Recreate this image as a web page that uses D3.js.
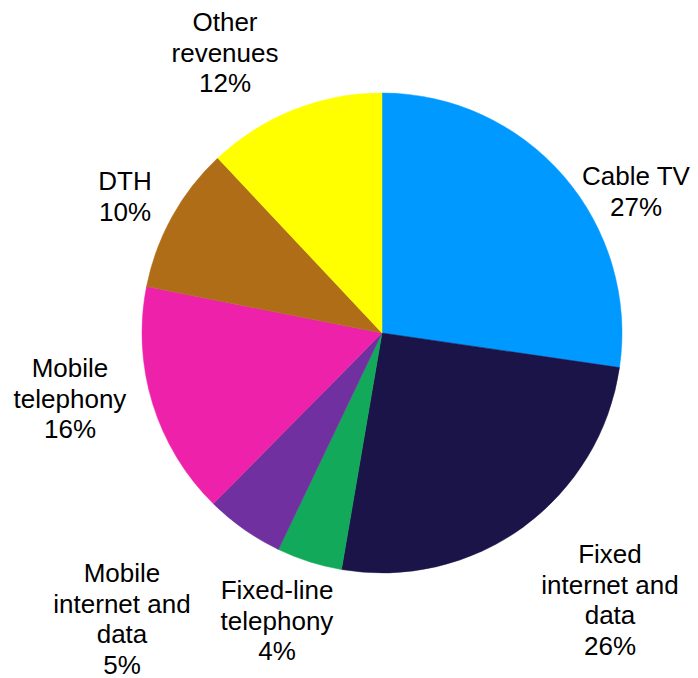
<!DOCTYPE html>
<html>
<head>
<meta charset="utf-8">
<script src="https://cdn.jsdelivr.net/npm/d3@7"></script>
<style>
  html, body { margin: 0; padding: 0; background: #fff; }
  svg text { font-family: "Liberation Sans", Arial, sans-serif; fill: #000; }
</style>
</head>
<body>
<svg id="chart" width="698" height="678"></svg>
<script>
// Data
const categories = ["Cable TV", "Fixed internet and data", "Fixed-line telephony", "Mobile internet and data", "Mobile telephony", "DTH", "Other revenues"];
const values = [27.3, 25.4, 4.4, 5.3, 15.7, 9.9, 12.0];
const pctLabels = ["27%", "26%", "4%", "5%", "16%", "10%", "12%"];
const labelLines = [
  ["Cable TV"],
  ["Fixed", "internet and", "data"],
  ["Fixed-line", "telephony"],
  ["Mobile", "internet and", "data"],
  ["Mobile", "telephony"],
  ["DTH"],
  ["Other", "revenues"]
];

// Styles / layout
const colors = ["#0099FF", "#1A1449", "#12AA5A", "#7030A0", "#EE22AA", "#B06D18", "#FFFF00"];
const cx = 382, cy = 333, R = 240;
const fontSize = 26, lineH = 30.6;
// label anchor: [center x, first baseline y]
const labelAnchor = [
  [636, 185],
  [610, 563],
  [277, 599],
  [122, 582],
  [70, 377],
  [125, 190],
  [225, 31]
];

const svg = d3.select("#chart");
const g = svg.append("g").attr("transform", `translate(${cx},${cy})`);

const pie = d3.pie().sort(null).value(d => d.value);
const arc = d3.arc().innerRadius(0).outerRadius(R);

const data = categories.map((c, i) => ({ cat: c, value: values[i], i }));

g.selectAll("path")
  .data(pie(data))
  .join("path")
  .attr("d", arc)
  .attr("fill", d => colors[d.data.i])
  .attr("stroke", d => colors[d.data.i])
  .attr("stroke-width", 0.5);

const labels = svg.append("g");
data.forEach((d, i) => {
  const lines = labelLines[i].concat([pctLabels[i]]);
  const t = labels.append("text")
    .attr("text-anchor", "middle")
    .attr("font-size", fontSize);
  lines.forEach((ln, k) => {
    t.append("tspan")
      .attr("x", labelAnchor[i][0])
      .attr("y", labelAnchor[i][1] + k * lineH)
      .text(ln);
  });
});
</script>
</body>
</html>
